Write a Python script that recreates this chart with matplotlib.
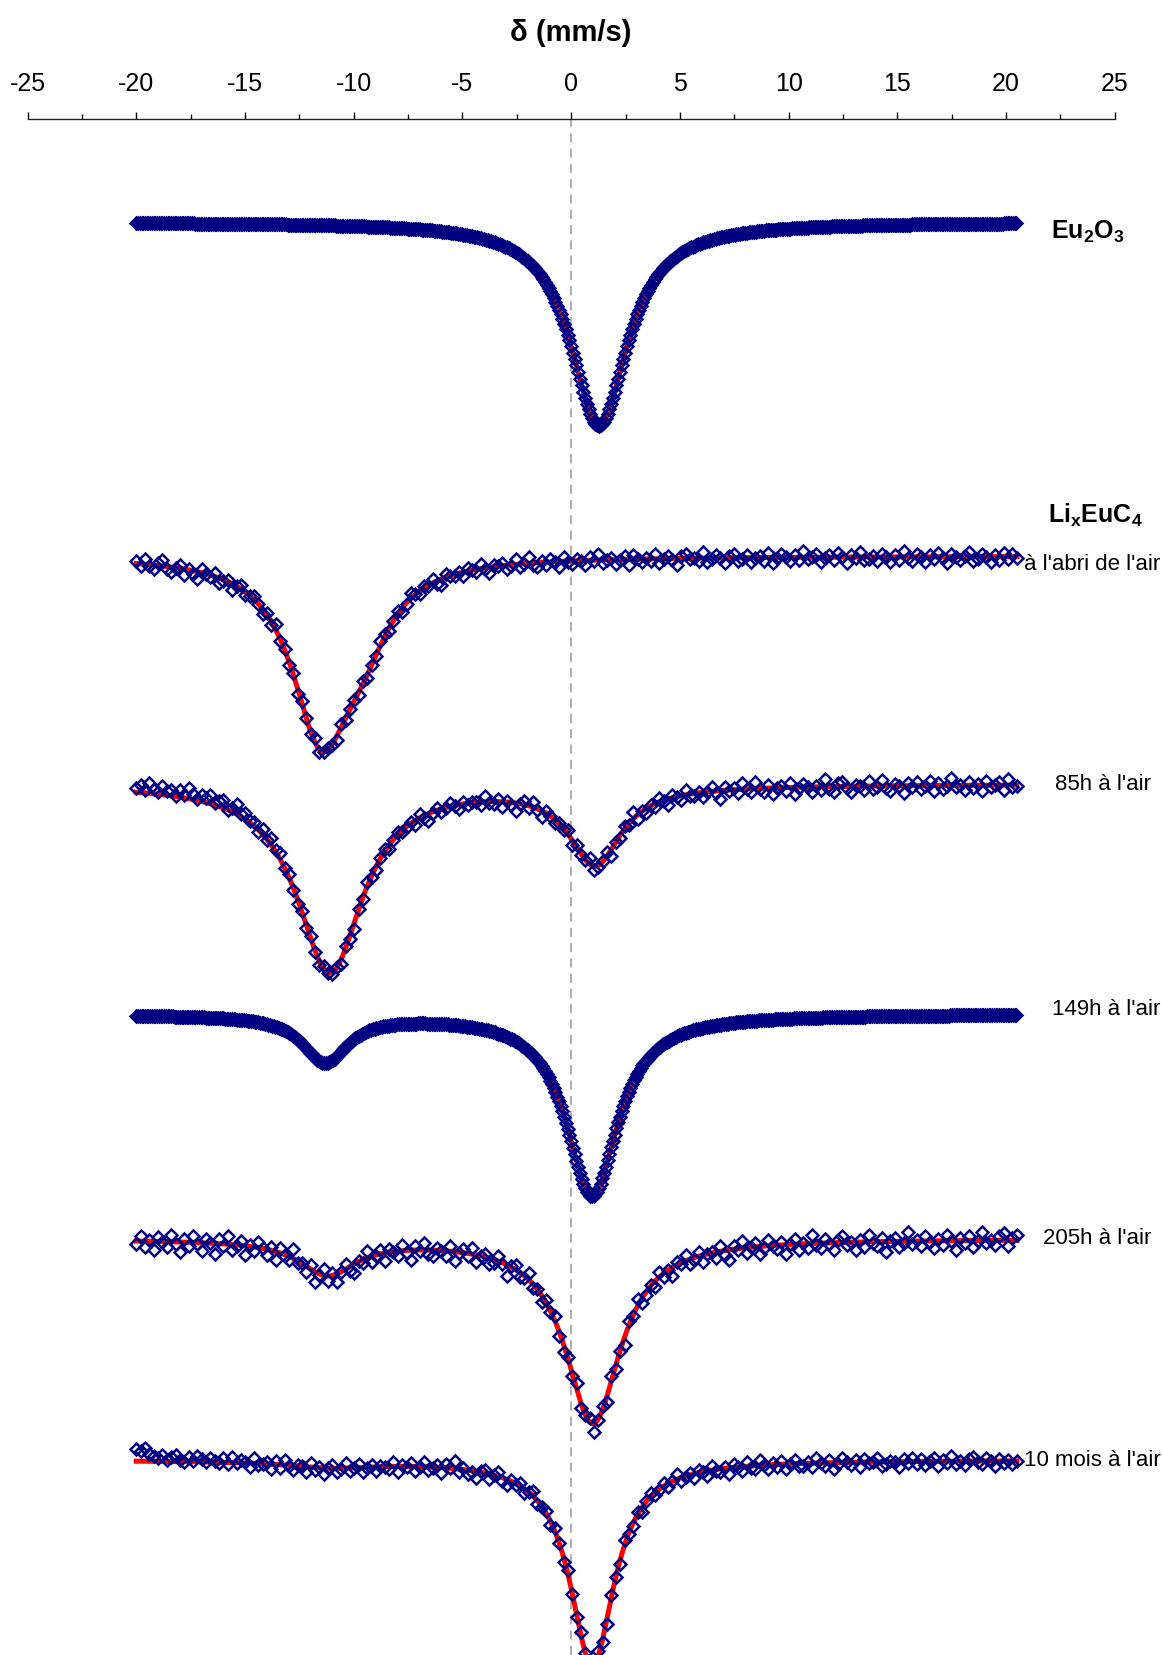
import numpy as np
import matplotlib
matplotlib.use("Agg")
import matplotlib.pyplot as plt
from matplotlib.ticker import MultipleLocator

plt.rcParams['font.family'] = ['Liberation Sans', 'DejaVu Sans']
plt.rcParams['mathtext.fontset'] = 'custom'
plt.rcParams['mathtext.rm'] = 'Liberation Sans'
plt.rcParams['mathtext.bf'] = 'Liberation Sans:bold'
plt.rcParams['axes.unicode_minus'] = False

# stacked Mossbauer spectra (151Eu), top to bottom
# baseline of each spectrum (a.u., counted downwards)
base_eu2o3 = 223
base_abri = 557
base_85h = 785
base_149h = 1015
base_205h = 1240
base_10mois = 1461

# fitted lines: (centre mm/s, half width mm/s, depth a.u.)
lines_eu2o3 = [(1.28, 1.6, 204)]
lines_abri = [(-11.5, 1.65, 172), (-9.6, 1.6, 55)]
lines_85h = [(-11.1, 1.85, 188), (1.1, 1.45, 78)]
lines_149h = [(-11.32, 1.25, 47), (0.96, 1.45, 182)]
lines_205h = [(-11.2, 1.6, 34), (1.0, 1.55, 184)]
lines_10mois = [(-11.0, 2.5, 6), (0.97, 1.25, 205)]

# scatter of the measured points around the fit (one value per channel)
res_abri = [
    -3, 2, -5, 1, 4, -2, -6, 2, 5, 0, -3, 6, -1, 3, 7, -4, 0, 2, -3, 5,
    1, -2, 6, 0, -4, 3, 1, -3, 0, 5, -2, 3, -6, 2, 0, 4, -1, 5, -3, 0,
    2, -4, 3, 0, -2, 1, 4, -3, 2, 0, -1, 2, -3, 3, 0, 1, -4, -2, 3, 0,
    -3, 4, 1, -5, 0, 3, -2, 1, -4, 3, 6, -3, 0, 2, -1, 4, -3, 0, 3, -5,
    1, 6, -2, 0, -3, 4, 1, -5, 3, 0, -6, 2, 4, -1, 3, -3, 0, 6, -4, 1,
    3, -2, 0, 5, -3, 1, -6, 3, 0, -2, 4, 1, -3, 6, -4, 0, 3, -1, 2, -5,
    4, 0, -3, 2, 7, -2, -4, 1, 0, 3, -6, 4, 1, -3, 0, 5, -2, -4, 3, 1,
    -3, 4, 0, -2, 3, -5, 6, 1, -3, 0, 4, -2, 3, -6, 2, 0, -3, 5, 1, -2,
    3, -4, 0, 6, -2, 1, -5, 3, 2, -1, 4, -3, 0, 5, -2, 3, -6, 1, 4, -3,
    0, 5, -2, 2, -4, 1, 6, -3, 0, 3, -1, -5, 4, 2, -3, 0, 5, -2, 3, -4,
    2, -3, 1]
res_85h = [
    -4, -8, -3, -10, -5, -2, -9, -4, -6, 0, -7, -3, -11, -5, -1, -6, -4, -9, -2, -5,
    -8, 0, -4, -10, -3, -6, -1, -4, 2, -5, 1, -7, -2, -6, 0, -3, 2, 5, -1, 3,
    -2, 1, 4, -3, 0, 2, -1, 5, -2, 3, 6, -1, 2, -4, 1, 3, 0, -2, 4, 1,
    -3, 2, 0, -1, 5, -4, 2, 7, 1, -2, 3, 0, -3, 1, 4, -2, 2, -1, 0, 3,
    -6, 1, 2, -3, 5, -1, 3, 8, 0, -4, 2, -5, 1, 6, -2, 0, 4, -1, 2, -4,
    5, -2, 1, 0, -6, 4, 2, -1, -4, 7, 0, 3, -3, 1, -7, 4, 0, 5, -1, 3,
    -4, 1, 6, -3, 0, 4, -5, 2, 3, -1, 5, 0, -4, 2, 8, -3, 1, -2, 4, -6,
    0, 3, -7, 1, 4, -3, 6, 0, -2, 3, -4, 7, 1, -3, 0, 5, -1, 3, -8, 2,
    5, -3, -4, 2, 6, -1, 0, 4, -5, 3, 1, -6, 2, 5, -2, 0, 7, -3, 1, -4,
    3, 0, -5, 6, -2, 4, 1, -7, 2, 0, 5, -3, 3, -1, 6, -4, 2, 0, -3, 5,
    -6, 2, 1]
res_205h = [
    3, -5, 6, -1, 9, -4, 0, 5, -7, 2, 10, -3, 4, -6, 1, 8, -4, 0, 11, -5,
    2, -8, 5, 1, -4, 9, -1, 4, -6, 0, 6, -3, 8, -5, 1, 4, -9, 2, 0, 6,
    -4, 10, 1, -6, 5, -2, 8, 0, -5, 4, 9, -1, 3, -7, 6, 1, -4, 8, -3, 0,
    5, -6, 3, 10, -4, 1, -7, 4, 6, -2, 0, 5, -5, 9, 1, -4, 3, -6, 7, 0,
    -3, 6, 4, -5, 1, 11, -1, -4, 5, 2, -7, 4, 0, 6, -3, 1, -5, 4, 8, -1,
    3, -6, 5, 0, -4, 9, 1, -3, 6, -5, 4, 0, 8, -4, 1, -7, 5, 3, -1, 6,
    -5, 4, 0, 9, -3, 1, -6, 5, 2, -4, 7, 0, -1, 6, -5, 4, 10, -3, 1, -7,
    5, 0, -4, 8, 2, -6, 1, 4, -3, 9, 0, -5, 6, -1, 4, -8, 2, 5, -4, 1,
    7, -3, -6, 3, 0, 8, -2, 5, -7, 1, 4, -4, 10, 0, -3, 6, 2, -9, 3, -1,
    5, -5, 1, 7, -2, 4, -6, 0, 9, -3, 2, -5, 6, 1, -8, 3, 0, 5, -4, -7,
    6, -2, -5]
res_10mois = [
    -12, -10, -13, -7, -5, -3, -6, -1, -4, -7, -2, 0, -5, -1, -6, -3, 0, -4, -1, 1,
    -4, 2, -6, 0, -3, -1, 4, -5, 2, 0, -2, 5, -3, 3, -5, 1, 4, -1, 0, 5,
    -4, 3, -1, 6, 0, -3, 4, 1, -5, 3, 0, -4, 5, 1, -2, 4, -1, 0, 3, -4,
    6, -1, 1, -3, 4, 0, -5, 3, 1, -2, 5, -4, 0, -8, 3, -2, 4, 1, 7, -1,
    -3, 5, 0, -4, 3, 6, -1, 2, -3, 4, 0, -5, 3, 1, -2, 4, -3, 0, 5, -4,
    1, 3, -3, 0, 4, -2, -4, 3, 6, -2, 0, 4, -5, 1, 3, -2, 5, 0, -4, 3,
    1, -3, 4, 0, -5, 3, 1, -2, 4, -3, 0, 5, -4, 1, 3, -1, 6, -3, 0, 4,
    -4, 2, 3, -5, 0, 4, -2, 3, -3, 5, 0, -4, 2, 3, -1, 4, -5, 0, 3, -3,
    6, 1, -4, 0, 3, -2, 5, -3, 1, 0, -4, 4, 2, -1, 0, 5, -3, 1, -4, 3,
    -2, 4, 0, -3, 5, -1, 2, -5, 3, 0, 4, -2, -4, 1, 3, -3, 0, 5, -2, 2,
    -1, 3, 0]

# velocity channels
v_fit = np.linspace(-20, 20.5, 900)
v_fine = np.arange(-20, 20.5001, 0.08)
v_coarse = np.linspace(-20, 20.5, len(res_abri))


def absorption(v, lines):
    out = np.zeros_like(v)
    for c, g, d in lines:
        out += d / (1 + ((v - c) / g) ** 2)
    return out


fig = plt.figure(figsize=(11.62, 16.56), dpi=100)
ax = fig.add_axes([0.02375, 0.0, 0.93554, 1 - 120 / 1656])

spectra = [
    (base_eu2o3, lines_eu2o3, v_fine, None),
    (base_abri, lines_abri, v_coarse, res_abri),
    (base_85h, lines_85h, v_coarse, res_85h),
    (base_149h, lines_149h, v_fine, None),
    (base_205h, lines_205h, v_coarse, res_205h),
    (base_10mois, lines_10mois, v_coarse, res_10mois),
]

for base, lines, v_pts, res in spectra:
    ax.plot(v_fit, base + absorption(v_fit, lines), color='red', lw=3.6, zorder=2)
    y_pts = base + absorption(v_pts, lines)
    if res is not None:
        y_pts = y_pts + np.array(res)
    ax.plot(v_pts, y_pts, ls='none', marker='D', ms=6.3, mfc='none',
            mec='#000080', mew=1.8, zorder=3)

ax.axvline(0, color='#999999', lw=1.1, ls=(0, (6, 4)), zorder=1)

# sample labels
ax.text(23.77, 232, r'$\mathbf{Eu_2O_3}$', fontsize=18, ha='center', va='center')
ax.text(24.1, 515, r'$\mathbf{Li_xEuC_4}$', fontsize=18, ha='center', va='center')
ax.text(20.85, 565, "à l'abri de l'air", fontsize=16, ha='left', va='center')
ax.text(24.47, 785, "85h à l'air", fontsize=16, ha='center', va='center')
ax.text(24.6, 1010, "149h à l'air", fontsize=16, ha='center', va='center')
ax.text(24.19, 1239, "205h à l'air", fontsize=16, ha='center', va='center')
ax.text(20.83, 1461, "10 mois à l'air", fontsize=16, ha='left', va='center')

ax.set_xlim(-25, 25)
ax.set_ylim(1656, 120)
ax.xaxis.tick_top()
ax.xaxis.set_major_locator(MultipleLocator(5))
ax.xaxis.set_minor_locator(MultipleLocator(2.5))
ax.tick_params(axis='x', which='major', direction='out', length=5, width=1,
               pad=12.5, labelsize=18)
ax.tick_params(axis='x', which='minor', direction='out', length=3.5, width=1)
ax.set_yticks([])
for side in ['left', 'right', 'bottom']:
    ax.spines[side].set_visible(False)
ax.spines['top'].set_linewidth(1)
ax.spines['top'].set_color('#222222')

ax.xaxis.set_label_position('top')
ax.set_xlabel('δ (mm/s)', fontsize=21, fontweight='bold')
ax.xaxis.set_label_coords(0.5, 1.0566)
ax.xaxis.label.set_va('center')

fig.savefig('out.png', dpi=100)
